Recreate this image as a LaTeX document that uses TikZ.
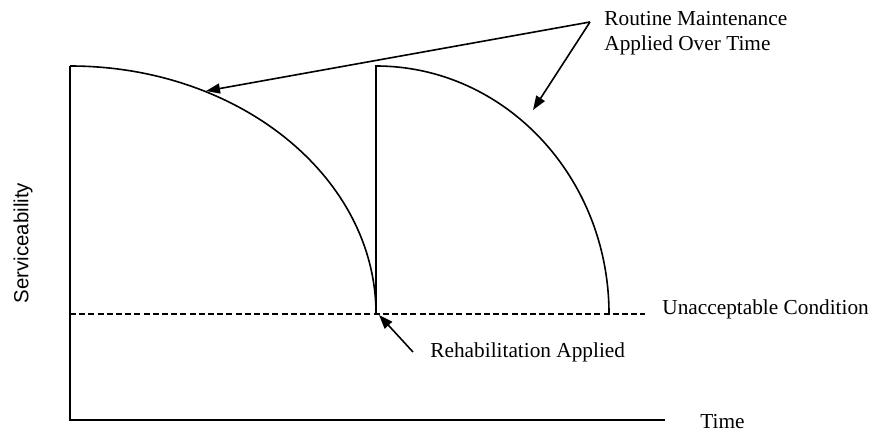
\documentclass[tikz,border=0pt]{standalone}
\usepackage{fontspec}
\setmainfont{Liberation Serif}
\setsansfont{Liberation Sans}
\usetikzlibrary{arrows.meta}
\begin{document}
\begin{tikzpicture}[x=0.5pt,y=-0.5pt,
  line/.style={line width=0.8pt, line join=miter},
  arr/.style={line width=0.8pt, -{Triangle[length=7pt,width=5pt]}},
  lbl/.style={font=\fontsize{10.65}{12.5}\selectfont, inner sep=0pt},
  dashline/.style={line width=0.8pt, dash pattern=on 3pt off 1.6pt}]
\useasboundingbox (0,0) rectangle (870,432);
% axes
\coordinate (ytop) at (70,66);
\coordinate (orig) at (70,420);
\coordinate (xend) at (665,420);
\draw[line] (ytop) -- (orig) -- (xend);
% threshold
\coordinate (d0) at (70,314);
\coordinate (d1) at (645,314);
\draw[dashline] (d0) -- (d1);
% curves
\coordinate (r1) at (376,314);
\coordinate (t2) at (376,66);
\coordinate (e2) at (609,314);
\draw[line] (ytop) .. controls (239,66) and (376,177) .. (r1)
  -- (t2) .. controls (504.7,66) and (609,177) .. (e2);
% labels
\node[lbl, anchor=west, align=left] (rm) at (604,33) {Routine Maintenance\\Applied Over Time};
\node[lbl, anchor=west] (uc) at (662,309) {Unacceptable Condition};
\node[lbl, anchor=west] (ra) at (430,352) {Rehabilitation Applied};
\node[lbl, anchor=west] (tm) at (700,422) {Time};
\node[font=\sffamily\fontsize{10.2}{12}\selectfont, inner sep=0pt, rotate=90] (sv) at (23,243) {Serviceability};
% arrows
\coordinate (apex) at (590,22);
\coordinate (a1) at (206,91);
\coordinate (a2) at (533,110);
\coordinate (rs) at (413,352);
\coordinate (rt) at (379,315);
\draw[arr] (apex) -- (a1);
\draw[arr] (apex) -- (a2);
\draw[arr] (rs) -- (rt);
\end{tikzpicture}
\end{document}
